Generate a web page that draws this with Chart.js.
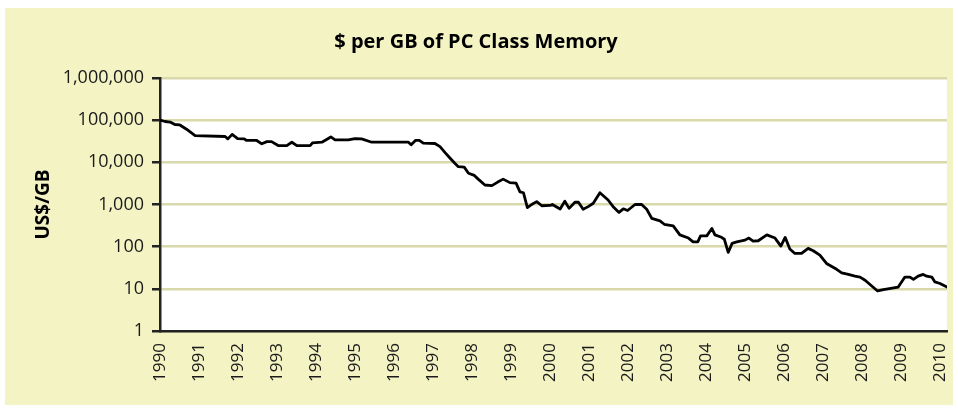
<!DOCTYPE html>
<html>
<head>
<meta charset="utf-8">
<script src="https://cdn.jsdelivr.net/npm/chart.js@4/dist/chart.umd.min.js"></script>
<style>
  html, body { margin: 0; padding: 0; background: #ffffff; }
  #wrap { position: relative; width: 958px; height: 412px; }
</style>
</head>
<body>
<div id="wrap"><canvas id="c" width="958" height="412"></canvas></div>
<script>
// ---- data ----
const chartTitle = "$ per GB of PC Class Memory";
const yAxisTitle = "US$/GB";
const yearTicks = [1990,1991,1992,1993,1994,1995,1996,1997,1998,1999,2000,2001,2002,2003,2004,2005,2006,2007,2008,2009,2010];
const yTickValues = [1, 10, 100, 1000, 10000, 100000, 1000000];
const years = [
  1990.00,1990.13,1990.26,1990.38,1990.51,1990.68,1990.90,1991.67,1991.74,1991.85,
  1991.99,1992.16,1992.22,1992.48,1992.61,1992.74,1992.86,1993.03,1993.25,1993.38,
  1993.51,1993.85,1993.91,1994.15,1994.25,1994.38,1994.49,1994.83,1995.00,1995.17,
  1995.43,1996.37,1996.44,1996.55,1996.65,1996.75,1997.05,1997.18,1997.31,1997.44,
  1997.56,1997.65,1997.80,1997.91,1998.06,1998.16,1998.33,1998.51,1998.66,1998.80,
  1998.97,1999.13,1999.23,1999.32,1999.42,1999.53,1999.66,1999.79,2000.00,2000.06,
  2000.26,2000.38,2000.49,2000.64,2000.73,2000.85,2000.98,2001.11,2001.28,2001.49,
  2001.62,2001.77,2001.88,2001.99,2002.18,2002.35,2002.48,2002.61,2002.82,2002.93,
  2003.16,2003.33,2003.55,2003.67,2003.79,2003.86,2004.02,2004.15,2004.23,2004.38,
  2004.47,2004.57,2004.67,2004.79,2005.00,2005.10,2005.21,2005.34,2005.56,2005.77,
  2005.92,2006.03,2006.15,2006.28,2006.45,2006.62,2006.75,2006.92,2007.09,2007.35,
  2007.48,2007.65,2007.82,2007.95,2008.08,2008.25,2008.40,2008.55,2008.85,2008.93,
  2009.10,2009.23,2009.32,2009.44,2009.57,2009.66,2009.79,2009.87,2010.00,2010.18
];
const pricePerGB = [
  100000,93000,90000,79000,77000,61000,43000,41000,36000,46000,
  36500,36000,33000,33000,27500,31000,31000,25000,25000,30000,
  25000,25000,29000,30000,34000,40000,34000,34000,36600,36000,
  30000,30000,26000,33000,33000,28500,28000,23600,17000,12500,
  9500,7900,7700,5500,4900,4000,2900,2800,3400,4000,
  3300,3200,2000,1900,840,1000,1170,935,950,1000,
  780,1200,810,1130,1130,770,890,1070,1900,1280,
  890,650,790,720,1000,1000,770,470,410,340,
  310,190,160,130,130,180,180,270,190,170,
  150,73,120,130,143,160,135,138,190,160,
  103,166,88,69,69,91,80,63,40,29,
  24,22,20,19,16,11.7,8.9,9.6,10.7,11,
  19,19,16.7,20,22,20,19,14.6,13.4,11
];
const xMin = 1990;
const xMax = 2010.18;

// ---- styling ----
const FONT = "'Open Sans', 'DejaVu Sans', sans-serif";
const BG_YELLOW = '#F3F3C4';
const GRID = '#DAD9AC';
const AXIS = '#222222';

const bgPlugin = {
  id: 'bg',
  beforeDraw(chart) {
    const ctx = chart.ctx;
    const a = chart.chartArea;
    ctx.save();
    ctx.fillStyle = '#ffffff';
    ctx.fillRect(0, 0, chart.width, chart.height);
    ctx.fillStyle = BG_YELLOW;
    ctx.fillRect(5, 8, chart.width - 10, chart.height - 15);
    ctx.fillStyle = '#ffffff';
    ctx.fillRect(a.left, a.top, a.right - a.left, a.bottom - a.top);
    ctx.restore();
  }
};

const points = years.map((x, i) => ({ x: x, y: pricePerGB[i] }));

new Chart(document.getElementById('c'), {
  type: 'line',
  data: {
    datasets: [{
      data: points,
      borderColor: '#000000',
      borderWidth: 2.8,
      pointRadius: 0,
      tension: 0,
      fill: false,
      borderJoinStyle: 'round',
      borderCapStyle: 'round'
    }]
  },
  options: {
    responsive: false,
    animation: false,
    devicePixelRatio: 1,
    layout: { padding: { left: 5, right: 11, top: 8, bottom: 7 } },
    plugins: {
      legend: { display: false },
      tooltip: { enabled: false },
      title: {
        display: true,
        text: chartTitle,
        color: '#000000',
        font: { family: FONT, size: 20, weight: 'bold' },
        padding: { top: 22, bottom: 24 }
      }
    },
    scales: {
      x: {
        type: 'linear',
        min: xMin,
        max: xMax,
        afterBuildTicks(scale) { scale.ticks = yearTicks.map(v => ({ value: v })); },
        afterFit(scale) { scale.height = 74; scale.paddingRight = 0; scale.paddingLeft = 0; },
        ticks: {
          minRotation: 90,
          maxRotation: 90,
          autoSkip: false,
          padding: 12,
          color: '#1a1a1a',
          font: { family: FONT, size: 17 },
          callback: (v) => String(v)
        },
        grid: { display: true, drawOnChartArea: false, drawTicks: false },
        border: { display: true, color: AXIS, width: 2.5 }
      },
      y: {
        type: 'logarithmic',
        min: 1,
        max: 1000000,
        afterBuildTicks(scale) { scale.ticks = yTickValues.map(v => ({ value: v, major: true })); },
        afterFit(scale) { scale.width = 155; },
        ticks: {
          padding: 8,
          color: '#1a1a1a',
          font: { family: FONT, size: 18 },
          callback: (v) => Number(v).toLocaleString('en-US')
        },
        grid: {
          color: GRID,
          lineWidth: 2.5,
          tickColor: AXIS,
          tickLength: 8,
          tickWidth: 2.5
        },
        border: { display: true, color: AXIS, width: 2.5 },
        title: {
          display: true,
          text: yAxisTitle,
          color: '#000000',
          font: { family: FONT, size: 19, weight: 'bold' },
          padding: { top: 27, bottom: 0 }
        }
      }
    }
  },
  plugins: [bgPlugin]
});
</script>
</body>
</html>
